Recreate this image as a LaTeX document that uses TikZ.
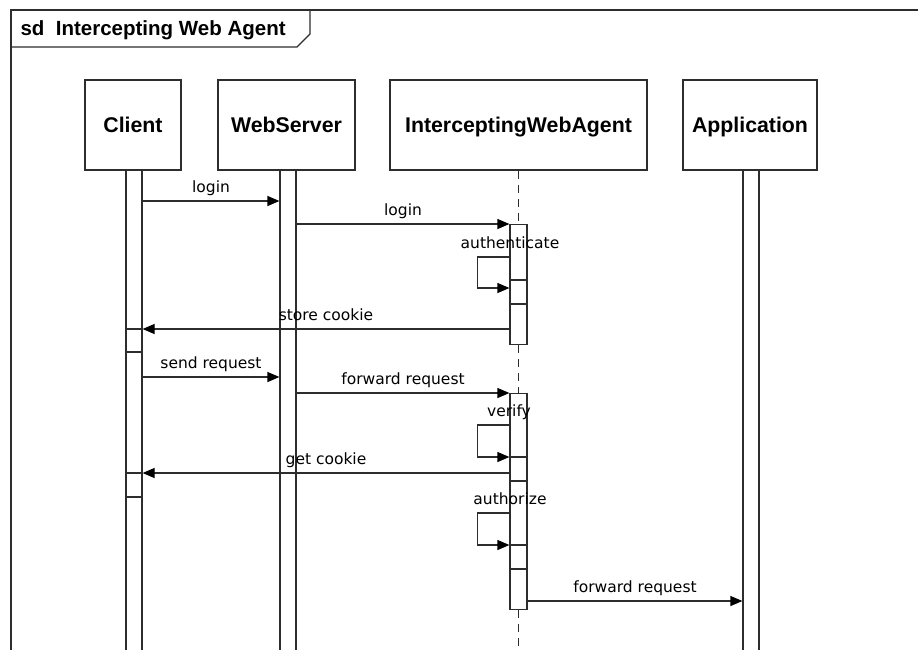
\documentclass[tikz,border=0pt]{standalone}
\usepackage{fontspec}
\setmainfont{Liberation Sans}
\newfontfamily\msgfont{DejaVu Sans}
\usetikzlibrary{arrows.meta}
\definecolor{linegray}{RGB}{45,45,45}

\begin{document}
\begin{tikzpicture}[x=1pt,y=-1pt,
  line width=1.2pt, draw=linegray,
  head/.style={draw, fill=white, minimum width=#1, minimum height=90pt, inner sep=0pt,
               text height=18pt, text depth=4pt,
               font=\fontsize{21.3}{24}\selectfont\bfseries},
  bar/.style={draw, fill=white, minimum width=#1, inner sep=0pt, anchor=north},
  msg/.style={-{Triangle[length=12pt,width=10pt,color=black]}},
  lbl/.style={midway, anchor=base, yshift=9pt, inner sep=0pt,
              font=\msgfont\fontsize{15.5}{17}\selectfont},
  selflbl/.style={anchor=base, inner sep=0pt, font=\msgfont\fontsize{15.5}{17}\selectfont},
  life/.style={line width=1.4pt, dash pattern=on 8pt off 6pt}
]
\useasboundingbox (0,0) rectangle (918,649);

% diagram frame and its name tab
\draw (11,660) -- (11,10) -- (930,10);
\draw (11,47) -- (297,47) -- (310,34) -- (310,10);
\node[anchor=base west, inner sep=0pt, font=\fontsize{20.5}{22}\selectfont\bfseries]
  (title) at (20,35.5) {sd\ \ Intercepting Web Agent};

% lifeline heads
\node[head=96pt]  (client) at (133,125)   {Client};
\node[head=137pt] (web)    at (286.5,125) {WebServer};
\node[head=257pt] (iwa)    at (518.5,125) {InterceptingWebAgent};
\node[head=134pt] (app)    at (750,125)   {Application};

% activation bars
\node[bar=16pt, minimum height=490pt] (cB) at (134,170) {};
\node[bar=16pt, minimum height=490pt] (wB) at (288,170) {};
\node[bar=16pt, minimum height=490pt] (aB) at (751,170) {};
\node[bar=17pt, minimum height=120pt] (iA) at (518.5,224) {};
\node[bar=17pt, minimum height=216pt] (iB) at (518.5,393) {};

% dashed lifeline of the agent
\coordinate (iEnd) at (518.5,660);
\draw[life] (iwa.south) -- (iA.north);
\draw[life] (iA.south) -- (iB.north);
\draw[life] (iB.south) -- (iEnd);

% divisions inside the bars
\foreach \y in {329,352,473,497}
  \draw (cB.west |- 0,\y) -- (cB.east |- 0,\y);
\foreach \y in {280,304}
  \draw (iA.west |- 0,\y) -- (iA.east |- 0,\y);
\foreach \y in {457,481,545,569}
  \draw (iB.west |- 0,\y) -- (iB.east |- 0,\y);

% messages
\draw[msg] (cB.east |- 0,201) -- node[lbl]{login} (wB.west |- 0,201);
\draw[msg] (wB.east |- 0,224) -- node[lbl]{login} (iA.west |- 0,224);
\draw[msg] (iA.west |- 0,257) -- ++(-32,0) |- (iA.west |- 0,288);
\node[selflbl] (lAuth) at (510,248) {authenticate};
\draw[msg] (iA.west |- 0,329) -- node[lbl]{store cookie} (cB.east |- 0,329);
\draw[msg] (cB.east |- 0,377) -- node[lbl]{send request} (wB.west |- 0,377);
\draw[msg] (wB.east |- 0,393) -- node[lbl]{forward request} (iB.west |- 0,393);
\draw[msg] (iB.west |- 0,425) -- ++(-32,0) |- (iB.west |- 0,457);
\node[selflbl] (lVer) at (509,416) {verify};
\draw[msg] (iB.west |- 0,473) -- node[lbl]{get cookie} (cB.east |- 0,473);
\draw[msg] (iB.west |- 0,513) -- ++(-32,0) |- (iB.west |- 0,545);
\node[selflbl] (lAuz) at (510,504) {authorize};
\draw[msg] (iB.east |- 0,601) -- node[lbl]{forward request} (aB.west |- 0,601);
\end{tikzpicture}
\end{document}
